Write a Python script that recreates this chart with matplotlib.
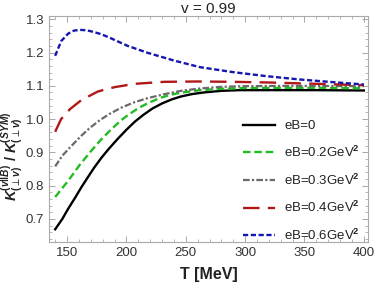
import matplotlib
matplotlib.use("Agg")
import matplotlib.pyplot as plt
from matplotlib.ticker import MultipleLocator, FormatStrFormatter

plt.rcParams['font.family'] = ['Liberation Sans', 'DejaVu Sans']
plt.rcParams['mathtext.fontset'] = 'custom'
plt.rcParams['mathtext.bf'] = 'Liberation Sans:bold:italic'
plt.rcParams['mathtext.rm'] = 'Liberation Sans:bold'
plt.rcParams['mathtext.it'] = 'Liberation Sans:bold:italic'

title = "v = 0.99"
labels = ["eB=0", "eB=0.2GeV$^2$", "eB=0.3GeV$^2$", "eB=0.4GeV$^2$", "eB=0.6GeV$^2$"]

T_black = [140, 146, 151, 157, 162, 168, 173, 179, 185, 192, 200, 207, 214, 222, 230, 238, 246, 255, 265, 280, 296, 330, 360, 400]
v_black = [0.669, 0.700, 0.731, 0.765, 0.795, 0.828, 0.855, 0.884, 0.910, 0.938, 0.968, 0.992, 1.012, 1.032, 1.047, 1.059, 1.068, 1.075, 1.080, 1.085, 1.087, 1.087, 1.087, 1.086]

T_green = [140, 151, 161, 170, 178, 186, 195, 202, 211, 220, 228, 236, 245, 262, 280, 296, 330, 360, 400]
v_green = [0.766, 0.815, 0.864, 0.903, 0.936, 0.965, 0.995, 1.014, 1.035, 1.051, 1.063, 1.072, 1.079, 1.087, 1.091, 1.093, 1.094, 1.094, 1.093]

T_gray = [140, 146, 152.5, 162, 169, 178, 186, 196, 207, 218, 232, 246, 262, 280, 300, 340, 400]
v_gray = [0.858, 0.890, 0.915, 0.950, 0.973, 0.998, 1.016, 1.035, 1.051, 1.063, 1.075, 1.085, 1.092, 1.097, 1.099, 1.100, 1.099]

T_red = [140, 145, 152.5, 162, 176, 190, 207, 232, 260, 290, 320, 350, 400]
v_red = [0.962, 1.000, 1.030, 1.057, 1.083, 1.096, 1.106, 1.112, 1.113, 1.112, 1.110, 1.107, 1.102]

T_blue = [140, 145, 151, 156, 161, 166, 170, 178, 185, 201, 218, 240, 262, 290, 318, 346, 374, 400]
v_blue = [1.190, 1.234, 1.257, 1.266, 1.268, 1.267, 1.264, 1.256, 1.246, 1.220, 1.199, 1.176, 1.156, 1.141, 1.129, 1.119, 1.111, 1.104]

fig = plt.figure(figsize=(3.74, 2.84), dpi=100)
ax = fig.add_axes([0.131, 0.148, 0.853, 0.796])

ax.plot(T_black, v_black, color='black', lw=1.7, ls='-', label=labels[0])
ax.plot(T_green, v_green, color='#22bb22', lw=1.7, ls=(0, (3.2, 1.6)), label=labels[1])
ax.plot(T_gray, v_gray, color='#6a6a6a', lw=1.6, ls=(0, (3, 1, 1, 1)), label=labels[2])
ax.plot(T_red, v_red, color='#b01818', lw=1.7, ls=(0, (7, 3.5)), label=labels[3])
ax.plot(T_blue, v_blue, color='#1515b0', lw=1.7, ls=(0, (2.2, 1.1)), label=labels[4])

ax.set_xlim(134.8, 403.5)
ax.set_ylim(0.631, 1.31)
ax.xaxis.set_major_locator(MultipleLocator(50))
ax.xaxis.set_minor_locator(MultipleLocator(10))
ax.yaxis.set_major_locator(MultipleLocator(0.1))
ax.yaxis.set_minor_locator(MultipleLocator(0.02))
ax.yaxis.set_major_formatter(FormatStrFormatter('%.1f'))
ax.tick_params(which='both', direction='in', top=True, right=True, colors='#999999',
               labelcolor='#333333', labelsize=9.5)
ax.tick_params(which='major', length=4, width=0.6)
ax.tick_params(which='minor', length=2, width=0.5)
for s in ax.spines.values():
    s.set_color('#aaaaaa')
    s.set_linewidth(0.8)

ax.set_title(title, fontsize=11, color='#222222', pad=2)
ax.set_xlabel("T [MeV]", fontsize=11.5, fontweight='bold', color='#222222')
ax.xaxis.set_label_coords(0.5, -0.11)
ax.set_ylabel(r'$\mathbf{K}^{(v\Vert B)}_{(\perp v)}$ / $\mathbf{K}^{(SYM)}_{(\perp v)}$',
              fontsize=10.5, fontweight='bold', color='#222222')
ax.yaxis.set_label_coords(-0.075, 0.38)

leg = ax.legend(loc='lower right', bbox_to_anchor=(1.0, -0.04), frameon=False, fontsize=9.5,
                handlelength=2.4, handletextpad=0.7, labelspacing=0.95, borderaxespad=0.2)
for t in leg.get_texts():
    t.set_color('#222222')

fig.savefig("out.png", dpi=100)
